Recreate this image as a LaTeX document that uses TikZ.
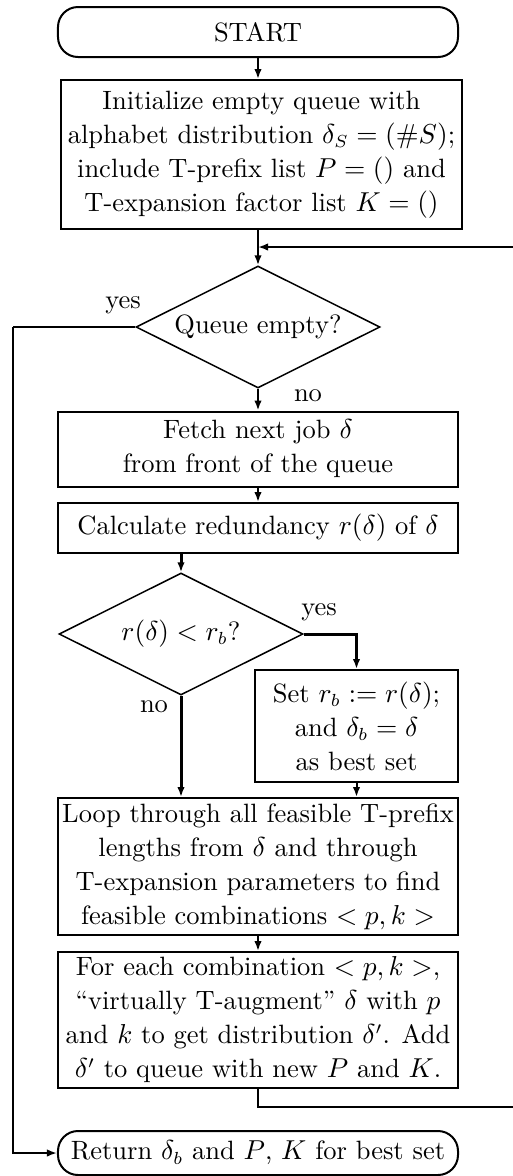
\documentclass[tikz,border=0pt]{standalone}
\usepackage{amsmath}
\usepackage{amssymb}
\usepackage{tikz}
\usetikzlibrary{calc, shapes.geometric, arrows.meta, positioning}

\begin{document}
\begin{tikzpicture}[x=0.4pt, y=-0.4pt, font=\fontsize{10.6}{13.6}\selectfont,
		box/.style={rectangle, draw=black, line width=0.8pt, inner sep=0pt, align=center},
		term/.style={box, rounded corners=8pt},
		test/.style={diamond, draw=black, line width=0.6pt, inner sep=0pt, aspect=2,
			minimum width=97.6pt, minimum height=48.8pt},
		flow/.style={line width=0.8pt, -{Latex[length=4pt, width=3pt]}},
		bold/.style={line width=1.2pt, -{Latex[length=4pt, width=3pt]}}]
		%-------------------------------------------------------------------------------
		% search for the best set
		%-------------------------------------------------------------------------------
		\useasboundingbox (0,0) rectangle (513,1176);
		
		% core nodes
		\node[term, minimum width=160pt, minimum height=20pt] (start) 
			at (258,32) {START};
		\node[box, minimum width=160.4pt, minimum height=59.6pt] (init) 
			at (261.5,154.5) {Initialize empty queue with\\
			alphabet distribution $\delta_S=(\#S)$;\\
			include T-prefix list $P=()$ and\\
			T-expansion factor list $K=()$};
		\node[test] (empty) 
			at (258,327) {Queue empty?};
		\node[box, minimum width=160pt, minimum height=30pt] (fetch) 
			at (258,449) {Fetch next job $\delta$\\ from front of the queue};
		\node[box, minimum width=160pt, minimum height=20pt] (calc) 
			at (258,528) {Calculate redundancy $r(\delta)$ of $\delta$};
		\node[test] (less) 
			at (181,634) {$r(\delta)<r_b$?};
		\node[box, minimum width=81.2pt, minimum height=44.8pt] (best) 
			at (356.5,726) {Set $r_b:=r(\delta)$;\\ and $\delta_b=\delta$\\ as best set};
		\node[box, minimum width=160pt, minimum height=54.8pt] (loop) 
			at (258,866.5) {Loop through all feasible T-prefix\\
			lengths from $\delta$ and through\\
			T-expansion parameters to find\\
			feasible combinations $<p,k>$};
		\node[box, minimum width=160pt, minimum height=54.4pt] (aug) 
			at (258,1020) {For each combination $<p,k>$,\\
			``virtually T-augment'' $\delta$ with $p$\\
			and $k$ to get distribution $\delta'$. Add\\
			$\delta'$ to queue with new $P$ and $K$.};
		\node[term, minimum width=160pt, minimum height=17.6pt] (ret) 
			at (258,1153) {Return $\delta_b$ and $P$, $K$ for best set};
		
		% free ends of the loop back
		\coordinate (merge) at (258,247);
		\coordinate (backin) at (513,247);
		\coordinate (backout) at (513,1107);
		\coordinate (exit) at (13,327);
		
		% forward
		\draw[flow] (start) -- (start |- init.north);
		\draw[line width=0.8pt] (merge |- init.south) -- (merge);
		\draw[flow] (merge) -- (empty);
		\draw[flow] (empty) -- (fetch);
		\draw[flow] (fetch) -- (calc);
		\draw[bold] (less.north |- calc.south) -- (less.north);
		\draw[bold] (less.east) -| (best.north);
		\draw[bold] (less.south) -- (less.south |- loop.north);
		\draw[flow] (best.south) -- (best.south |- loop.north);
		\draw[flow] (loop) -- (aug);
		
		% loop back and exit
		\draw[line width=0.8pt] (aug.south) |- (backout);
		\draw[flow] (backin) -- (merge);
		\draw[line width=0.8pt] (empty.west) -- (exit);
		\draw[flow] (exit) |- (ret.west);
		
		% labels
		\node (yesq) at (123,305) {yes};
		\node (noq) at (308,396) {no};
		\node (yesr) at (319,612) {yes};
		\node (nor) at (154,707) {no};
\end{tikzpicture}
\end{document}
